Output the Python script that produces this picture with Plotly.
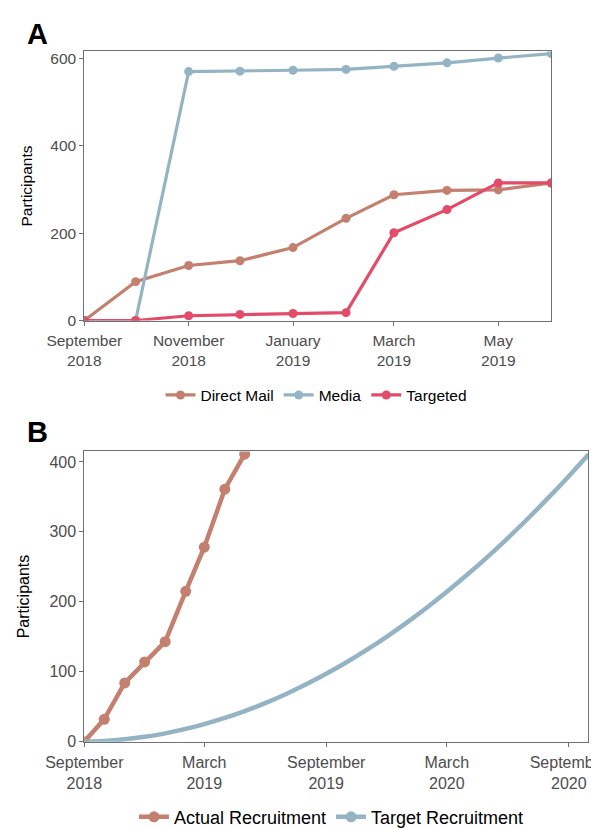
import plotly.graph_objects as go

# ---------------- Panel A data ----------------
months_a = ["2018-09-01", "2018-10-01", "2018-11-01", "2018-12-01", "2019-01-01",
            "2019-02-01", "2019-03-01", "2019-04-01", "2019-05-01", "2019-06-01"]
direct_mail = [0, 89, 126, 137, 167, 234, 288, 298, 299, 315]
media = [0, 0, 570, 571, 573, 575, 582, 590, 601, 611]
targeted = [0, 0, 11, 14, 16, 18, 201, 254, 315, 315]

# ---------------- Panel B data ----------------
months_actual = ["2018-09-01", "2018-10-01", "2018-11-01", "2018-12-01", "2019-01-01",
                 "2019-02-01", "2019-03-01", "2019-04-01", "2019-05-01"]
actual_recruitment = [0, 32, 84, 114, 143, 215, 278, 361, 411]

months_target = ["2018-09-01", "2018-10-01", "2018-11-01", "2018-12-01", "2019-01-01",
                 "2019-02-01", "2019-03-01", "2019-04-01", "2019-05-01", "2019-06-01",
                 "2019-07-01", "2019-08-01", "2019-09-01", "2019-10-01", "2019-11-01",
                 "2019-12-01", "2020-01-01", "2020-02-01", "2020-03-01", "2020-04-01",
                 "2020-05-01", "2020-06-01", "2020-07-01", "2020-08-01", "2020-09-01",
                 "2020-10-01"]
target_recruitment = [0, 1.0, 3.4, 6.9, 11.9, 18.2, 25.1, 33.9, 43.7, 55.2, 67.5, 81.6,
                      97.0, 113.2, 131.2, 149.9, 170.6, 192.6, 214.3, 238.9, 263.9,
                      291.1, 318.7, 348.5, 379.6, 411.0]

# tick labels
ticks_a = ["2018-09-01", "2018-11-01", "2019-01-01", "2019-03-01", "2019-05-01"]
ticklabels_a = ["September<br>2018", "November<br>2018", "January<br>2019",
                "March<br>2019", "May<br>2019"]
yticks_a = [0, 200, 400, 600]
ticks_b = ["2018-09-01", "2019-03-01", "2019-09-01", "2020-03-01", "2020-09-01"]
ticklabels_b = ["September<br>2018", "March<br>2019", "September<br>2019",
                "March<br>2020", "September<br>2020"]
yticks_b = [0, 100, 200, 300, 400]

C_MAIL = "#C4806F"
C_MEDIA = "#94B4C4"
C_TARGET = "#E24C68"
FONT = "Arial, 'Liberation Sans', sans-serif"
GRAY_TXT = "#4D4D4D"
BORDER = "#707070"

fig = go.Figure()

for name, vals, col in [("Direct Mail", direct_mail, C_MAIL),
                        ("Media", media, C_MEDIA),
                        ("Targeted", targeted, C_TARGET)]:
    fig.add_trace(go.Scatter(
        x=months_a, y=vals, name=name, mode="lines+markers",
        line=dict(color=col, width=3.2), marker=dict(color=col, size=9),
        xaxis="x", yaxis="y", legend="legend"))

fig.add_trace(go.Scatter(
    x=months_actual, y=actual_recruitment, name="Actual Recruitment",
    mode="lines+markers", line=dict(color=C_MAIL, width=4.5),
    marker=dict(color=C_MAIL, size=11), xaxis="x2", yaxis="y2", legend="legend2"))
fig.add_trace(go.Scatter(
    x=months_target, y=target_recruitment, name="Target Recruitment",
    mode="lines", line=dict(color=C_MEDIA, width=4.5, shape="spline", smoothing=0.8),
    xaxis="x2", yaxis="y2", showlegend=False))
# legend key for the target curve (line + point, as in the reference)
fig.add_trace(go.Scatter(
    x=[None], y=[None], name="Target Recruitment", mode="lines+markers",
    line=dict(color=C_MEDIA, width=4.5), marker=dict(color=C_MEDIA, size=11),
    xaxis="x2", yaxis="y2", legend="legend2"))

axis_common = dict(showgrid=False, zeroline=False, showline=True, mirror=True,
                   linecolor=BORDER, linewidth=1, ticks="outside", ticklen=4,
                   tickcolor=BORDER, automargin=False)

fig.update_layout(
    width=599, height=828,
    margin=dict(l=0, r=0, t=0, b=0),
    paper_bgcolor="white", plot_bgcolor="white",
    font=dict(family=FONT, color="black"),
    xaxis=dict(domain=[0.1274, 0.9070], anchor="y", type="date",
               range=["2018-09-01", "2019-06-01"], tickvals=ticks_a,
               ticktext=ticklabels_a, tickfont=dict(size=15.5, color=GRAY_TXT),
               ticklabelstandoff=2, ticklabeloverflow="allow", **axis_common),
    yaxis=dict(domain=[0.6184, 0.9469], anchor="x", range=[0, 616],
               tickvals=yticks_a, tickfont=dict(size=15.5, color=GRAY_TXT),
               title=dict(text="Participants", font=dict(size=15.5, color="black"),
                          standoff=13),
               **axis_common),
    xaxis2=dict(domain=[0.1274, 0.9683], anchor="y2", type="date",
                range=["2018-09-01", "2020-09-30"], tickvals=ticks_b,
                ticktext=ticklabels_b, tickfont=dict(size=16, color=GRAY_TXT),
                ticklabelstandoff=2, ticklabeloverflow="allow", **axis_common),
    yaxis2=dict(domain=[0.1042, 0.4586], anchor="x2", range=[0, 415],
                tickvals=yticks_b, tickfont=dict(size=16, color=GRAY_TXT),
                title=dict(text="Participants", font=dict(size=16, color="black"),
                           standoff=15),
                **axis_common),
    legend=dict(orientation="h", x=0.515, xanchor="center", y=0.527, yanchor="middle",
                font=dict(size=15.5, color="black"), itemwidth=30,
                bgcolor="rgba(0,0,0,0)"),
    legend2=dict(orientation="h", x=0.54, xanchor="center", y=0.012, yanchor="middle",
                 font=dict(size=18, color="black"), itemwidth=30,
                 bgcolor="rgba(0,0,0,0)"),
    annotations=[
        dict(text="<b>A</b>", x=29 / 599, y=1 - 26 / 828, xref="paper", yref="paper",
             showarrow=False, font=dict(size=29, color="black", family=FONT),
             xanchor="center", yanchor="middle"),
        dict(text="<b>B</b>", x=29 / 599, y=1 - 429 / 828, xref="paper", yref="paper",
             showarrow=False, font=dict(size=29, color="black", family=FONT),
             xanchor="center", yanchor="middle"),
    ],
)

fig.write_html("out.html")
